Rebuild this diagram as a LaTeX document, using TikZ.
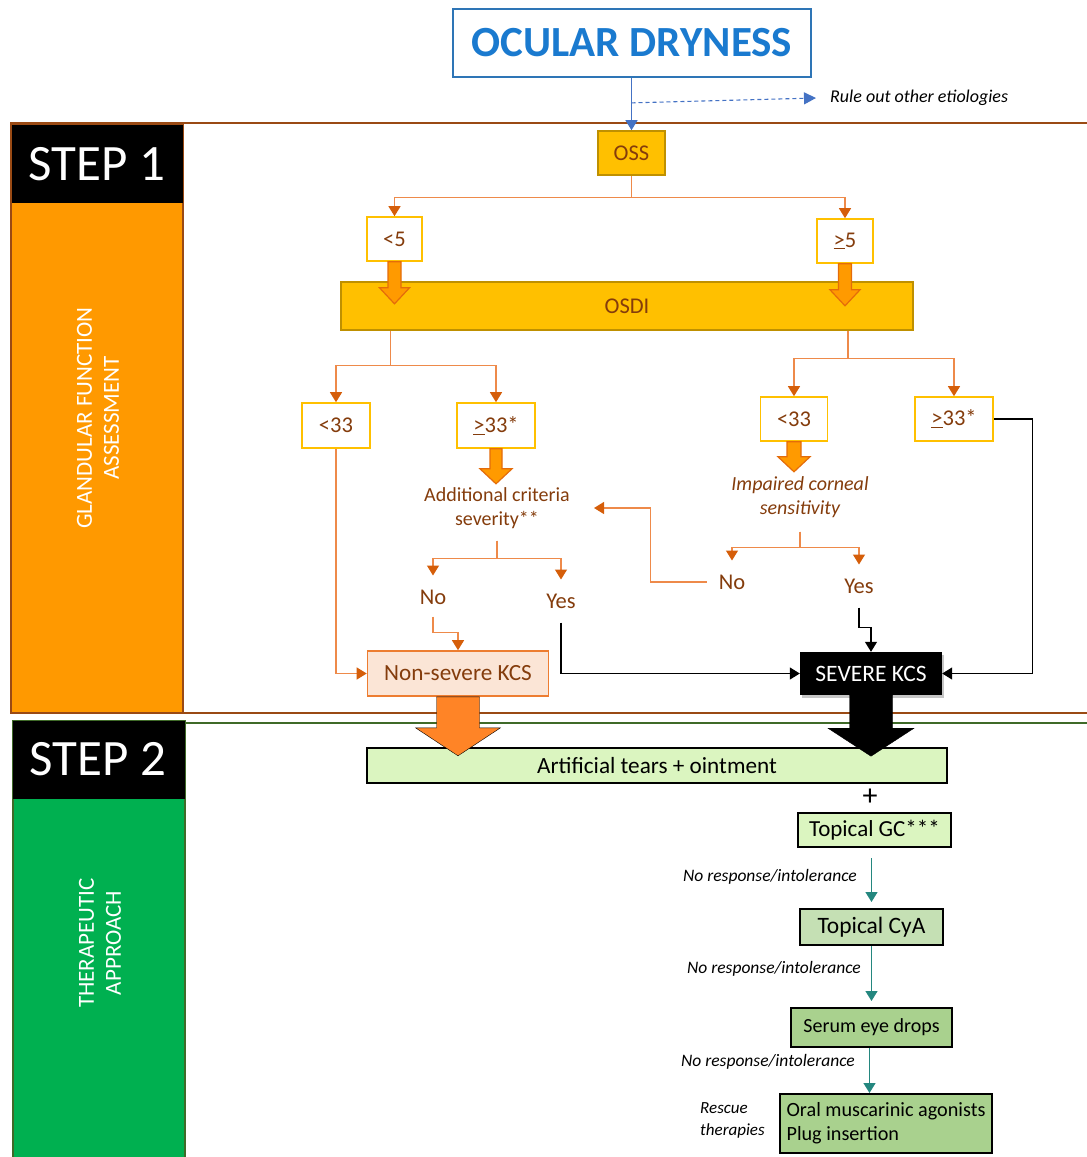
\documentclass[tikz,border=0pt]{standalone}
\usepackage{fontspec}
\setmainfont{Carlito}
\usetikzlibrary{arrows.meta,calc,shadows}
\definecolor{brn}{HTML}{843C0C}
\definecolor{ylw}{HTML}{FFC000}
\definecolor{gold}{HTML}{BF9000}
\definecolor{oline}{HTML}{EE8A4A}
\definecolor{odark}{HTML}{D55E0A}
\definecolor{oblk}{HTML}{FF9A00}
\definecolor{oblkd}{HTML}{E46C0A}
\definecolor{obig}{HTML}{FF8426}
\definecolor{nsfill}{HTML}{FBE5D6}
\definecolor{nsdraw}{HTML}{ED7D31}
\definecolor{blu}{HTML}{2E75B6}
\definecolor{blut}{HTML}{1A7ACF}
\definecolor{blul}{HTML}{4472C4}
\definecolor{gA}{HTML}{DBF5C0}
\definecolor{gB}{HTML}{C5E0B4}
\definecolor{gC}{HTML}{A9D18E}
\definecolor{teal}{HTML}{24877F}
\definecolor{sbor}{HTML}{FF9900}
\definecolor{sbrn}{HTML}{9A4A14}
\definecolor{sgrn}{HTML}{00B050}
\definecolor{dgrn}{HTML}{3F6A28}
\newcommand\fsz[2]{\fontsize{#1}{#2}\selectfont}
% block arrow: #1 start, #2 length, #3 half shaft, #4 half head, #5 head length, #6 style
\newcommand\barr[6]{%
  \draw[#6] ($(#1)+(-#3,0)$) -- ($(#1)+(#3,0)$) -- ($(#1)+(#3,#2-#5)$) -- ($(#1)+(#4,#2-#5)$)
   -- ($(#1)+(0,#2)$) -- ($(#1)+(-#4,#2-#5)$) -- ($(#1)+(-#3,#2-#5)$) -- cycle;}
\tikzset{
  ybox/.style={draw=ylw, line width=1.6, fill=white, text=brn, font=\fsz{22.5}{26}, inner sep=0},
  gbox/.style={draw=gold, line width=1.6, fill=ylw, text=brn, font=\fsz{22.5}{26}, inner sep=0},
  lbl/.style={text=brn, font=\fsz{22.5}{26}, inner sep=0},
  oarrow/.style={draw=oline, line width=1.3, -{Triangle[width=12pt,length=10pt,color=odark]}},
  barrow/.style={draw=black, line width=1.3, -{Triangle[width=12pt,length=10pt]}},
  tarrow/.style={draw=teal, line width=1.3, -{Triangle[width=12pt,length=10pt,color=teal]}},
  thbox/.style={draw=black, line width=2, text=black, inner sep=0},
  nrl/.style={font=\itshape\fsz{17.5}{21}, inner sep=0, anchor=east},
  smallblk/.style={fill=oblk, draw=oblkd, line width=1.2},
}
\begin{document}
\begin{tikzpicture}[x=1pt,y=-1pt]
\useasboundingbox (0,0) rectangle (1087,1157);
% ---- frames and side bars
\draw[sbrn, line width=1.5] (10,123) -- (1087,123);
\draw[sbrn, line width=1.5] (10,713) -- (1087,713);
\draw[fill=sbor, draw=sbrn, line width=1.5] (11,124) rectangle (183,713);
\fill[black] (12,125) rectangle (183,203);
\node[text=white, font=\fsz{51}{55}] (s1) at (97,164) {STEP 1};
\node[rotate=90, text=white, align=center, font=\fsz{23}{27}] (gfa) at (98,418) {GLANDULAR FUNCTION\\ASSESSMENT};
\draw[dgrn, line width=1.5] (185,723) -- (1087,723);
\draw[fill=sgrn, draw=dgrn, line width=1.5] (13,721) rectangle (185,1162);
\fill[black] (13,721) rectangle (185,799);
\node[text=white, font=\fsz{51}{55}] (s2) at (98,759) {STEP 2};
\node[rotate=90, text=white, align=center, font=\fsz{23}{27}] (tap) at (100,943) {THERAPEUTIC\\APPROACH};
% ---- top
\node[draw=blu, line width=1.3, fill=white, text=blut, font=\bfseries\fsz{43}{48}, minimum width=358, minimum height=68, inner sep=0] (ocu) at (632,43) {OCULAR DRYNESS};
\node[gbox, minimum width=67, minimum height=44] (oss) at (631.5,153) {OSS};
\node[font=\itshape\fsz{18}{21}, inner sep=0, anchor=west] (rule) at (830,98) {Rule out other etiologies};
\draw[blul, line width=1.3, -{Triangle[width=12pt,length=10pt,color=blul]}] (oss.north |- ocu.south) -- (oss.north);
\draw[blul, line width=1.1, dash pattern=on 4pt off 3pt, -{Triangle[width=12pt,length=12pt,color=blul]}] ($(oss.north |- ocu.south)!0.48!(oss.north)$) -- ($(rule.west)+(-14,0)$);
% ---- OSS level
\node[ybox, minimum width=55, minimum height=44] (lt5) at (394.5,239) {<5};
\node[ybox, minimum width=56, minimum height=44] (ge5) at (845,241) {\underline{>}5};
\draw[oarrow] (oss.south) -- ++(0,22) -| (lt5.north);
\draw[oarrow] (oss.south) -- ++(0,22) -| (ge5.north);
\node[gbox, minimum width=572, minimum height=48] (osdi) at (627,306) {OSDI};
\barr{lt5.south}{42}{6.5}{15}{16}{smallblk}
\barr{ge5.south}{42}{6.5}{15}{16}{smallblk}
% ---- OSDI level
\node[ybox, minimum width=68, minimum height=45] (l33) at (336,425.5) {<33};
\node[ybox, minimum width=78, minimum height=45] (lg33) at (496,425.5) {\underline{>}33*};
\node[ybox, minimum width=67, minimum height=44] (r33) at (794,419) {<33};
\node[ybox, minimum width=78, minimum height=44] (rg33) at (954,419) {\underline{>}33*};
\draw[oarrow] ($(lt5.south |- osdi.south)+(-4,0)$) -- ++(0,35) -| (l33.north);
\draw[oarrow] ($(lt5.south |- osdi.south)+(-4,0)$) -- ++(0,35) -| (lg33.north);
\draw[oarrow] ($(ge5.south |- osdi.south)+(3,0)$) -- ++(0,28) -| (r33.north);
\draw[oarrow] ($(ge5.south |- osdi.south)+(3,0)$) -- ++(0,28) -| (rg33.north);
\barr{lg33.south}{35}{6}{16}{15}{smallblk}
\barr{r33.south}{30}{7}{16}{15}{smallblk}
% ---- left branch
\node[lbl, align=center, font=\fsz{20}{23.5}] (addc) at (497,508) {Additional criteria\\severity**};
\node[lbl] (no1) at (433,597) {No};
\node[lbl] (yes1) at (561,601) {Yes};
\draw[oarrow] ($(addc.south)+(0,12)$) -- ++(0,18) -| ($(no1.north)+(0,-14)$);
\draw[oarrow] ($(addc.south)+(0,12)$) -- ++(0,18) -| ($(yes1.north)+(0,-14)$);
\node[fill=nsfill, draw=nsdraw, line width=1.6, text=brn, font=\fsz{23.2}{27}, minimum width=181, minimum height=45, inner sep=0] (nons) at (458,673.5) {Non-severe KCS};
\draw[oarrow] ($(no1.south)+(0,12)$) -- ++(0,16) -| (nons.north);
\draw[oarrow] (l33.south) |- (nons.west);
% ---- right branch
\node[lbl, align=center, font=\itshape\fsz{20}{23.5}] (imp) at (800,497) {Impaired corneal\\sensitivity};
\node[lbl] (no2) at (732,582) {No};
\node[lbl] (yes2) at (859,586) {Yes};
\draw[oarrow] ($(imp.south)+(0,14)$) -- ++(0,16) -| ($(no2.north)+(0,-14)$);
\draw[oarrow] ($(imp.south)+(0,14)$) -- ++(0,16) -| ($(yes2.north)+(0,-14)$);
\draw[oarrow, shorten >=24pt] ($(no2.west)+(-12,0)$) -- ++(-56,0) |- (addc.east);
\node[fill=black, text=white, font=\fsz{23.5}{27}, minimum width=142, minimum height=43, inner sep=0,
      drop shadow={opacity=0.45, shadow xshift=2pt, shadow yshift=-3pt}] (sev) at (871,673.5) {SEVERE KCS};
\draw[barrow] ($(yes2.south)+(0,14)$) -- ++(0,20) -| (sev.north);
\draw[barrow] ($(yes1.south)+(0,14)$) |- (sev.west);
\draw[barrow] (rg33.east) -- ++(39,0) |- (sev.east);
% ---- step 2
\node[thbox, fill=gA, font=\fsz{23.2}{27}, minimum width=580, minimum height=35] (art) at (657,765.5) {Artificial tears + ointment};
\barr{nons.south}{59}{21.5}{42.5}{28}{fill=obig}
\barr{sev.south}{61}{21.5}{43}{28}{fill=black}
\node[inner sep=0, font=\fsz{30}{32}] (plus) at (870,797) {+};
\node[thbox, fill=gA, font=\fsz{23}{27}, minimum width=153, minimum height=34] (gc) at (874.5,830) {Topical GC***};
\node[thbox, fill=gB, font=\fsz{23.5}{27}, minimum width=143, minimum height=36] (cya) at (871.5,927) {Topical CyA};
\node[thbox, fill=gC, font=\fsz{20}{24}, minimum width=161, minimum height=39] (ser) at (871.5,1027.5) {Serum eye drops};
\node[thbox, fill=gC, font=\fsz{20.2}{24}, minimum width=212, minimum height=59, align=left, inner xsep=4] (oral) at (886,1123.5) {Oral muscarinic agonists\\Plug insertion};
\draw[tarrow, shorten <=10pt, shorten >=6pt] (cya.north |- gc.south) -- (cya.north);
\draw[tarrow, shorten >=6pt] (cya.south) -- (cya.south |- ser.north);
\draw[tarrow] ($(ser.south)+(-2,0)$) -- ($(ser.south |- oral.north)+(-2,0)$);
\node[nrl] (nr1) at (857,877) {No response/intolerance};
\node[nrl] (nr2) at (861,969) {No response/intolerance};
\node[nrl] (nr3) at (855,1062) {No response/intolerance};
\node[font=\itshape\fsz{17}{22}, inner sep=0, anchor=north west, align=left] (resc) at (700,1102) {Rescue\\therapies};
\end{tikzpicture}
\end{document}
